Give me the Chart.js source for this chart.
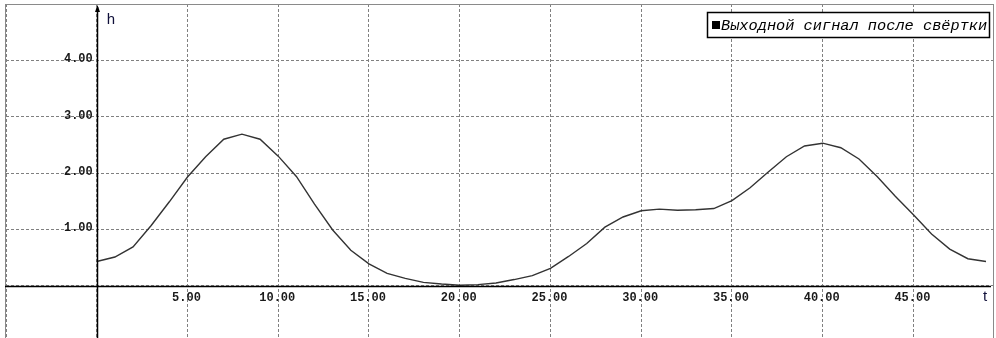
<!DOCTYPE html>
<html>
<head>
<meta charset="utf-8">
<script src="https://cdn.jsdelivr.net/npm/chart.js@4/dist/chart.umd.min.js"></script>
<style>
  html, body { margin: 0; padding: 0; background: #ffffff; }
  #wrap { position: relative; width: 996px; height: 338px; overflow: hidden; }
  canvas { display: block; }
</style>
</head>
<body>
<div id="wrap"><canvas id="c" width="996" height="338"></canvas></div>
<script>
// Sample times and the convolved output signal
const tValues = [0, 1, 2, 3, 4, 5, 6, 7, 8, 9,
                 10, 11, 12, 13, 14, 15, 16, 17, 18, 19,
                 20, 21, 22, 23, 24, 25, 26, 27, 28, 29,
                 30, 31, 32, 33, 34, 35, 36, 37, 38, 39,
                 40, 41, 42, 43, 44, 45, 46, 47, 48, 49];
const hValues = [0.43, 0.51, 0.69, 1.07, 1.49, 1.93, 2.29, 2.60, 2.69, 2.60,
                 2.30, 1.94, 1.45, 0.99, 0.63, 0.39, 0.22, 0.13, 0.06, 0.03,
                 0.01, 0.02, 0.05, 0.11, 0.18, 0.31, 0.52, 0.75, 1.04, 1.22,
                 1.33, 1.36, 1.34, 1.35, 1.37, 1.51, 1.74, 2.02, 2.29, 2.48,
                 2.53, 2.45, 2.25, 1.94, 1.59, 1.26, 0.92, 0.65, 0.48, 0.43];
const xTickLabels = [5, 10, 15, 20, 25, 30, 35, 40, 45];
const yTickLabels = [1, 2, 3, 4];
const seriesName = 'Выходной сигнал после свёртки';
const xAxisName = 't';
const yAxisName = 'h';

const points = tValues.map((t, i) => ({ x: t, y: hValues[i] }));

// Axes through the origin, tick labels, frame and legend box
const decorations = {
  id: 'decorations',
  afterDraw(chart) {
    const ctx = chart.ctx;
    const xs = chart.scales.x, ys = chart.scales.y;
    const area = chart.chartArea;
    const x0 = xs.getPixelForValue(0);
    const y0 = ys.getPixelForValue(0);
    ctx.save();

    // outer frame
    ctx.strokeStyle = '#8a8a8a';
    ctx.lineWidth = 1;
    ctx.strokeRect(5.5, 4.5, 988, 360);

    // axis lines
    ctx.strokeStyle = '#000000';
    ctx.lineWidth = 1.5;
    ctx.beginPath();
    ctx.moveTo(5, Math.round(y0) + 0.5);
    ctx.lineTo(area.right - 3, Math.round(y0) + 0.5);
    ctx.moveTo(Math.round(x0) + 0.5, area.top + 3);
    ctx.lineTo(Math.round(x0) + 0.5, chart.height);
    ctx.stroke();
    // arrow on the vertical axis
    ctx.fillStyle = '#000000';
    ctx.beginPath();
    ctx.moveTo(Math.round(x0) + 0.5, area.top + 1);
    ctx.lineTo(Math.round(x0) - 2, area.top + 8);
    ctx.lineTo(Math.round(x0) + 3, area.top + 8);
    ctx.closePath();
    ctx.fill();

    // tick labels
    ctx.fillStyle = '#1a1a1a';
    ctx.font = 'bold 12px "Liberation Mono", monospace';
    ctx.textAlign = 'right';
    ctx.textBaseline = 'middle';
    yTickLabels.forEach(v => {
      ctx.fillText(v.toFixed(2), x0 - 4, ys.getPixelForValue(v) - 1);
    });
    ctx.textAlign = 'center';
    ctx.textBaseline = 'middle';
    xTickLabels.forEach(v => {
      ctx.fillText(v.toFixed(2), xs.getPixelForValue(v) - 1, y0 + 12);
    });

    // axis names
    ctx.fillStyle = '#10103a';
    ctx.font = '15px "Liberation Sans", Arial, sans-serif';
    ctx.textAlign = 'left';
    ctx.textBaseline = 'alphabetic';
    ctx.fillText(yAxisName, x0 + 10, area.top + 20);
    ctx.fillText(xAxisName, area.right - 11, y0 + 15);

    // legend box
    const lx = 707.5, ly = 12.5, lw = 282, lh = 25;
    ctx.fillStyle = '#ffffff';
    ctx.fillRect(lx, ly, lw, lh);
    ctx.strokeStyle = '#000000';
    ctx.lineWidth = 1.5;
    ctx.strokeRect(lx, ly, lw, lh);
    ctx.fillStyle = '#000000';
    ctx.fillRect(712, 21, 8, 8);
    ctx.font = 'italic 15.3px "Liberation Mono", monospace';
    ctx.textBaseline = 'alphabetic';
    ctx.fillText(seriesName, 721, 30);

    ctx.restore();
  }
};

new Chart(document.getElementById('c'), {
  type: 'line',
  data: {
    datasets: [{
      label: seriesName,
      data: points,
      borderColor: '#333333',
      borderWidth: 1.4,
      pointRadius: 0,
      tension: 0,
      fill: false
    }]
  },
  options: {
    responsive: false,
    animation: false,
    devicePixelRatio: 1,
    layout: { padding: { left: 6, right: 2, top: 4, bottom: 0 } },
    plugins: { legend: { display: false }, tooltip: { enabled: false } },
    scales: {
      x: {
        type: 'linear',
        min: -5,
        max: 49.44,
        afterFit(scale) { scale.height = 0; },
        ticks: { display: false, stepSize: 5, includeBounds: false },
        grid: { color: '#808080', lineWidth: 1, drawTicks: false },
        border: { display: false, dash: [3, 2] }
      },
      y: {
        type: 'linear',
        min: -0.927,
        max: 5,
        afterFit(scale) { scale.width = 0; },
        ticks: { display: false, stepSize: 1, includeBounds: false },
        grid: { color: '#808080', lineWidth: 1, drawTicks: false },
        border: { display: false, dash: [3, 2] }
      }
    }
  },
  plugins: [decorations]
});
</script>
</body>
</html>
